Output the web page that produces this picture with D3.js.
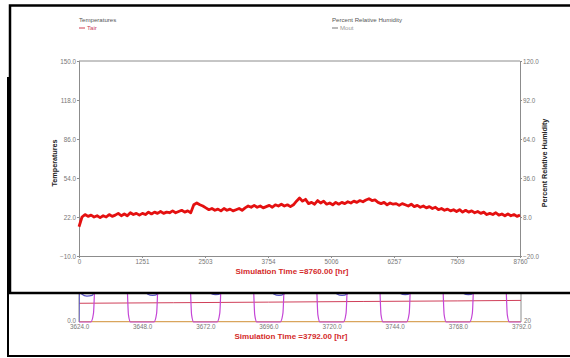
<!DOCTYPE html>
<html>
<head>
<meta charset="utf-8">
<script src="https://cdn.jsdelivr.net/npm/d3@7"></script>
<style>
  body { margin: 0; background: #fff; }
  svg { display: block; font-family: "Liberation Sans", Arial, sans-serif; }
</style>
</head>
<body>
<svg id="chart" width="570" height="358"></svg>
<script>
// ---- main plot (front window) ----
const tempTicks = [-10, 22, 54, 86, 118, 150];
const rhTicks = [-20, 8, 36, 64, 92, 120];
const hourTicks = [0, 1251, 2503, 3754, 5006, 6257, 7509, 8760];

// Tair, one reading every 60 hr
const tairStep = 60;
const tair = [
  14, 22, 24, 22.5, 23.5, 22, 23, 21.5, 23, 22,
  24, 22.5, 23.5, 25, 23, 24.5, 23, 25.5, 24, 25,
  23.5, 25, 24, 26, 24.5, 26, 25, 26.5, 25, 26,
  25.5, 27, 25.5, 26.5, 27.5, 26, 27, 25.5, 32, 33.5,
  32, 31, 29.5, 28, 29, 27.5, 28.5, 27, 29, 27.5,
  28.5, 27, 28, 29, 27.5, 29.5, 31, 30, 31.5, 30,
  31, 29.5, 30.5, 31.5, 30, 32, 31, 32.5, 31, 32,
  30.5, 32, 35, 37.5, 35, 36.5, 33, 34, 32.5, 35.5,
  33.5, 35, 32.5, 33.5, 32, 34, 32.5, 34, 33, 34.5,
  33.5, 35, 34, 35.5, 34.5, 36, 37, 35.5, 36, 34,
  33, 34, 32, 33.5, 32.5, 33, 31.5, 33, 32, 31,
  32.5, 30.5, 31.5, 30, 31, 29.5, 30.5, 29, 30, 28,
  29, 27.5, 28.5, 27, 28, 26.5, 28, 26, 27.5, 26,
  27, 25.5, 26.5, 25, 26, 24, 25, 24, 25.5, 23.5,
  24.5, 23, 24.5, 23, 24, 22.5, 23.5
];

// ---- zoomed plot (window behind) ----
const zoomTicks = [3624, 3648, 3672, 3696, 3720, 3744, 3768, 3792];
const zTairHours = [3624, 3660, 3696, 3732, 3768, 3792];
const zTair = [26, 26.8, 27.6, 28.5, 29.3, 30];
const zGroundHours = [3624, 3792];
const zGround = [0.4, 0.4];
const zRhHours = [
  3624, 3628.5, 3629.5, 3630.5, 3641.8, 3642.8, 3643.6,
  3652.5, 3653.5, 3654.5, 3665.8, 3666.8, 3667.6,
  3676.5, 3677.5, 3678.5, 3689.8, 3690.8, 3691.6,
  3700.5, 3701.5, 3702.5, 3713.8, 3714.8, 3715.6,
  3724.5, 3725.5, 3726.5, 3737.8, 3738.8, 3739.6,
  3748.5, 3749.5, 3750.5, 3761.8, 3762.8, 3763.6,
  3772.5, 3773.5, 3774.5, 3785.8, 3786.8, 3787.6, 3792
];
const zRh = [
  0, 0, 12, 95, 95, 10, 0,
  0, 12, 95, 95, 10, 0,
  0, 12, 95, 95, 10, 0,
  0, 12, 95, 95, 10, 0,
  0, 12, 95, 95, 10, 0,
  0, 12, 95, 95, 10, 0,
  0, 12, 95, 95, 10, 0, 0
];
const zBlueHours = [
  3624, 3624.2, 3625, 3627, 3629, 3631,
  3648, 3650, 3652, 3654, 3656,
  3672, 3674, 3676, 3678, 3680,
  3696, 3698, 3700, 3702, 3704,
  3720, 3722, 3724, 3726, 3728,
  3744, 3746, 3748, 3750, 3752,
  3768, 3770, 3772, 3774, 3776, 3792
];
const zBlue = [
  0, 50, 39, 36, 37, 50,
  50, 39, 37, 39, 50,
  50, 40, 38, 40, 50,
  50, 39, 37, 39, 50,
  50, 39, 37, 39, 50,
  50, 40, 38, 40, 50,
  50, 40, 38, 40, 50, 50
];

const svg = d3.select("#chart");
const font = "Liberation Sans, Arial, sans-serif";
const grey = "#8c8c8c";
const labelGrey = "#777";

// ---------- window behind ----------
svg.append("rect")
  .attr("x", 8).attr("y", 78).attr("width", 600).attr("height", 278)
  .attr("fill", "#fff").attr("stroke", "#000").attr("stroke-width", 2);

const zx = d3.scaleLinear().domain([3624, 3792]).range([79, 521]);
const zy = d3.scaleLinear().domain([0, 100]).range([322, 250]);

svg.append("clipPath").attr("id", "zclip")
  .append("rect").attr("x", 79).attr("y", 200).attr("width", 442).attr("height", 123);

const zg = svg.append("g");
zg.append("line").attr("x1", 79).attr("x2", 79).attr("y1", 200).attr("y2", 322)
  .attr("stroke", grey);
zg.append("line").attr("x1", 521).attr("x2", 521).attr("y1", 200).attr("y2", 322)
  .attr("stroke", grey);

const zlines = zg.append("g").attr("clip-path", "url(#zclip)");
function zline(hours, vals, color, w) {
  zlines.append("path")
    .datum(hours.map((h, i) => [h, vals[i]]))
    .attr("fill", "none").attr("stroke", color).attr("stroke-width", w)
    .attr("d", d3.line().x(d => zx(d[0])).y(d => zy(d[1])).curve(d3.curveMonotoneX));
}
zline(zGroundHours, zGround, "#d9a55c", 1.3);
zline(zTairHours, zTair, "#d0405a", 1);
zline(zBlueHours, zBlue, "#5a55c8", 1.2);
zline(zRhHours, zRh, "#c445d6", 1.2);

const zAxis = zg.append("g").attr("transform", "translate(0,322)")
  .call(d3.axisBottom(zx).tickValues(zoomTicks).tickFormat(d3.format(".1f")).tickSize(0).tickPadding(3));
zAxis.select(".domain").remove();
zAxis.selectAll("text").attr("font-size", 6.3).attr("fill", labelGrey).attr("font-family", font);

zg.append("text").attr("x", 76).attr("y", 322).attr("dy", "0.1em")
  .attr("text-anchor", "end").attr("font-size", 6.3).attr("fill", labelGrey).text("0.0");
zg.append("text").attr("x", 524).attr("y", 322).attr("dy", "0.1em")
  .attr("font-size", 6.3).attr("fill", labelGrey).text("20");
zg.append("text").attr("x", 291).attr("y", 339)
  .attr("text-anchor", "middle").attr("font-size", 8).attr("font-weight", "bold")
  .attr("fill", "#d42a2a").text("Simulation Time =3792.00 [hr]");

// ---------- front window ----------
svg.append("rect")
  .attr("x", 10).attr("y", 5.5).attr("width", 600).attr("height", 287.5)
  .attr("fill", "#fff").attr("stroke", "#000").attr("stroke-width", 2.5);

const x = d3.scaleLinear().domain([0, 8760]).range([79, 520]);
const yT = d3.scaleLinear().domain([-10, 150]).range([256, 61]);
const yRH = d3.scaleLinear().domain([-20, 120]).range([256, 61]);

const g = svg.append("g");

// legends
g.append("text").attr("x", 79).attr("y", 22).attr("font-size", 6.1).attr("fill", "#555").text("Temperatures");
g.append("line").attr("x1", 79).attr("x2", 85).attr("y1", 28).attr("y2", 28).attr("stroke", "#d04050");
g.append("text").attr("x", 87).attr("y", 30).attr("font-size", 6.1).attr("fill", "#c8405a").text("Tair");
g.append("text").attr("x", 332).attr("y", 22).attr("font-size", 6.1).attr("fill", "#555").text("Percent Relative Humidity");
g.append("line").attr("x1", 332).attr("x2", 338).attr("y1", 28).attr("y2", 28).attr("stroke", "#777");
g.append("text").attr("x", 340).attr("y", 30).attr("font-size", 6.1).attr("fill", "#999").text("Mout");

// axes
const left = g.append("g").attr("transform", "translate(79,0)")
  .call(d3.axisLeft(yT).tickValues(tempTicks).tickFormat(d3.format(".1f")).tickSize(2).tickPadding(1));
const right = g.append("g").attr("transform", "translate(520,0)")
  .call(d3.axisRight(yRH).tickValues(rhTicks).tickFormat(d3.format(".1f")).tickSize(2).tickPadding(1));
const bottom = g.append("g").attr("transform", "translate(0,256)")
  .call(d3.axisBottom(x).tickValues(hourTicks).tickFormat(d3.format("d")).tickSize(2).tickPadding(2));

[left, right, bottom].forEach(a => {
  a.selectAll(".domain").attr("stroke", grey);
  a.selectAll(".tick line").attr("stroke", grey);
  a.selectAll("text").attr("font-size", 6.3).attr("fill", labelGrey).attr("font-family", font);
});

g.append("line").attr("x1", 79).attr("x2", 520).attr("y1", 61).attr("y2", 61).attr("stroke", grey);

// axis titles
g.append("text").attr("transform", "translate(57,163) rotate(-90)")
  .attr("text-anchor", "middle").attr("font-size", 7.2).attr("font-weight", "bold")
  .attr("fill", "#222").text("Temperatures");
g.append("text").attr("transform", "translate(547,163) rotate(-90)")
  .attr("text-anchor", "middle").attr("font-size", 7.2).attr("font-weight", "bold")
  .attr("fill", "#222").text("Percent Relative Humidity");
g.append("text").attr("x", 292).attr("y", 274)
  .attr("text-anchor", "middle").attr("font-size", 8).attr("font-weight", "bold")
  .attr("fill", "#d42a2a").text("Simulation Time =8760.00 [hr]");

// Tair trace
g.append("path")
  .datum(tair)
  .attr("fill", "none")
  .attr("stroke", "#e41010")
  .attr("stroke-width", 2.8)
  .attr("stroke-linejoin", "round")
  .attr("d", d3.line().x((d, i) => x(i * tairStep)).y(d => yT(d)));
</script>
</body>
</html>
